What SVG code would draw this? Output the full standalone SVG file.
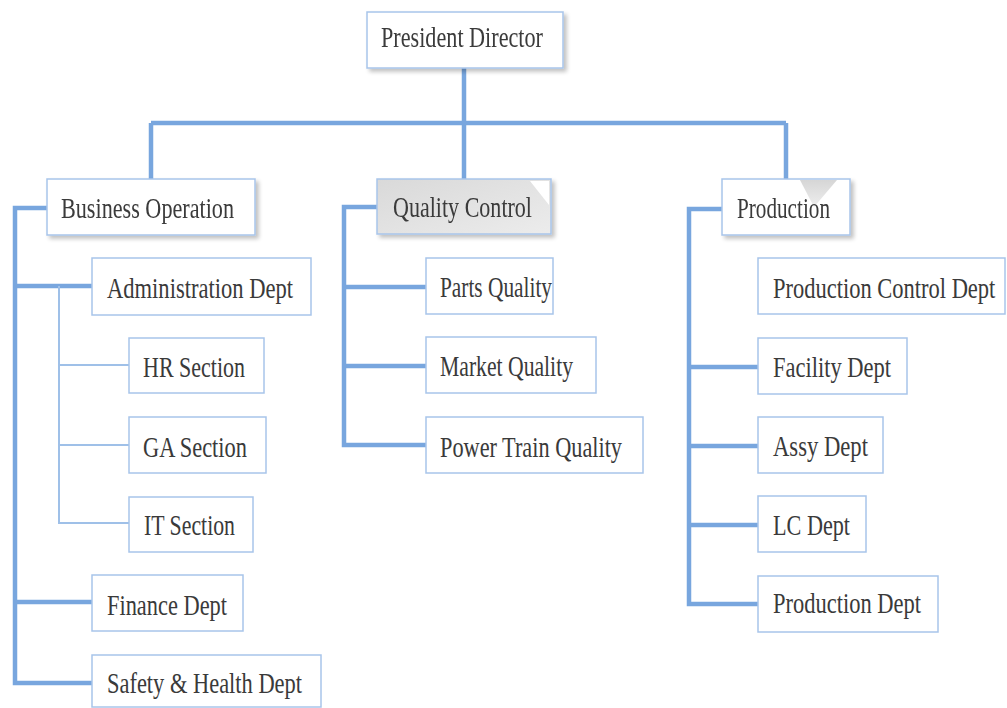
<svg xmlns="http://www.w3.org/2000/svg" width="1007" height="708" viewBox="0 0 1007 708">
<defs>
<filter id="sh" x="-10%" y="-20%" width="130%" height="160%">
<feGaussianBlur in="SourceAlpha" stdDeviation="2"/>
<feOffset dx="3" dy="3" result="b"/>
<feComponentTransfer><feFuncA type="linear" slope="0.25"/></feComponentTransfer>
<feMerge><feMergeNode/><feMergeNode in="SourceGraphic"/></feMerge>
</filter>
<linearGradient id="qg" x1="0" y1="0" x2="1" y2="1">
<stop offset="0" stop-color="#d9d9d9"/>
<stop offset="1" stop-color="#ececec"/>
</linearGradient>
<linearGradient id="pg" x1="0" y1="0" x2="0" y2="1">
<stop offset="0" stop-color="#d6d6d6"/>
<stop offset="1" stop-color="#eeeeee"/>
</linearGradient>
</defs>
<style>
.box{fill:#ffffff;stroke:#a8c5ea;stroke-width:1.5}
.t{font-family:"Liberation Serif","Times New Roman",serif;font-size:30px;fill:#3a3a3a}
.k{fill:none;stroke:#78a6de;stroke-width:4.5;stroke-linejoin:miter}
.n{fill:none;stroke:#9fc0e8;stroke-width:2}
</style>
<rect width="1007" height="708" fill="#ffffff"/>
<g id="connectors">
<path class="k" d="M464 68 V123 M151 123 H786 M151 123 V179 M464 123 V179 M786 123 V179"/>
<path class="k" d="M47 208 H15 V683 H92 M15 286 H92 M15 602 H92"/>
<path class="n" d="M59 286 V523 H129 M59 365 H129 M59 445 H129"/>
<path class="k" d="M377 207 H344 V445 H426 M344 287 H426 M344 366 H426"/>
<path class="k" d="M722 209 H689 V604 H758 M689 367 H758 M689 446 H758 M689 525 H758"/>
</g>
<g id="president-director" filter="url(#sh)"><rect class="box" x="367" y="12" width="196" height="56"/><text class="t" x="381" y="47" textLength="162" lengthAdjust="spacingAndGlyphs">President Director</text></g>
<g id="business-operation" filter="url(#sh)"><rect class="box" x="47" y="179" width="208" height="56"/><text class="t" x="61" y="218" textLength="173" lengthAdjust="spacingAndGlyphs">Business Operation</text></g>
<g id="quality-control" filter="url(#sh)"><rect class="box" x="377" y="179" width="174" height="55" style="fill:url(#qg)"/><polygon points="530,181 549,181 549,205" fill="#ffffff"/><text class="t" x="393" y="217" textLength="139" lengthAdjust="spacingAndGlyphs">Quality Control</text></g>
<g id="production" filter="url(#sh)"><rect class="box" x="722" y="179" width="128" height="56"/><polygon points="800,180 837,180 814,207" fill="url(#pg)"/><text class="t" x="737" y="218" textLength="93" lengthAdjust="spacingAndGlyphs">Production</text></g>
<g id="administration-dept"><rect class="box" x="92" y="258" width="219" height="57"/><text class="t" x="107" y="298" textLength="186" lengthAdjust="spacingAndGlyphs">Administration Dept</text></g>
<g id="hr-section"><rect class="box" x="129" y="338" width="135" height="55"/><text class="t" x="143" y="377" textLength="102" lengthAdjust="spacingAndGlyphs">HR Section</text></g>
<g id="ga-section"><rect class="box" x="129" y="417" width="137" height="56"/><text class="t" x="143" y="457" textLength="104" lengthAdjust="spacingAndGlyphs">GA Section</text></g>
<g id="it-section"><rect class="box" x="129" y="497" width="124" height="55"/><text class="t" x="144" y="535" textLength="91" lengthAdjust="spacingAndGlyphs">IT Section</text></g>
<g id="finance-dept"><rect class="box" x="92" y="575" width="151" height="56"/><text class="t" x="107" y="615" textLength="120" lengthAdjust="spacingAndGlyphs">Finance Dept</text></g>
<g id="safety-health-dept"><rect class="box" x="92" y="655" width="229" height="52"/><text class="t" x="107" y="693" textLength="195" lengthAdjust="spacingAndGlyphs">Safety &amp; Health Dept</text></g>
<g id="parts-quality"><rect class="box" x="426" y="258" width="127" height="56"/><text class="t" x="440" y="297" textLength="112" lengthAdjust="spacingAndGlyphs">Parts Quality</text></g>
<g id="market-quality"><rect class="box" x="426" y="337" width="170" height="56"/><text class="t" x="440" y="376" textLength="133" lengthAdjust="spacingAndGlyphs">Market Quality</text></g>
<g id="power-train-quality"><rect class="box" x="426" y="417" width="217" height="56"/><text class="t" x="440" y="457" textLength="182" lengthAdjust="spacingAndGlyphs">Power Train Quality</text></g>
<g id="production-control-dept"><rect class="box" x="758" y="258" width="247" height="56"/><text class="t" transform="translate(773 298) scale(0.75 1)" x="0" y="0">Production Control Dept</text></g>
<g id="facility-dept"><rect class="box" x="758" y="338" width="149" height="56"/><text class="t" x="773" y="377" textLength="118" lengthAdjust="spacingAndGlyphs">Facility Dept</text></g>
<g id="assy-dept"><rect class="box" x="758" y="417" width="125" height="56"/><text class="t" x="773" y="456" textLength="95" lengthAdjust="spacingAndGlyphs">Assy Dept</text></g>
<g id="lc-dept"><rect class="box" x="758" y="496" width="108" height="56"/><text class="t" x="773" y="535" textLength="77" lengthAdjust="spacingAndGlyphs">LC Dept</text></g>
<g id="production-dept"><rect class="box" x="758" y="576" width="180" height="56"/><text class="t" x="773" y="613" textLength="148" lengthAdjust="spacingAndGlyphs">Production Dept</text></g>
</svg>
